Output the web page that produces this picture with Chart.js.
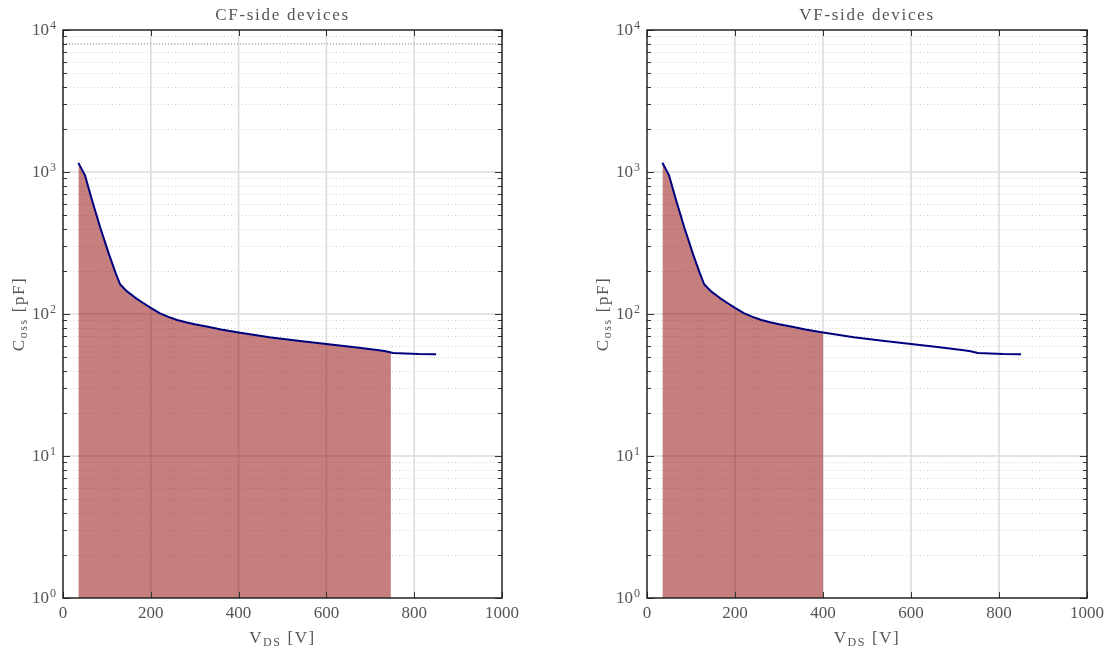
<!DOCTYPE html>
<html><head><meta charset="utf-8">
<script src="https://cdn.jsdelivr.net/npm/chart.js@4/dist/chart.umd.min.js"></script>
<style>
html,body{margin:0;padding:0;background:#fff;width:1113px;height:653px;overflow:hidden;}
canvas{position:absolute;top:0;}
#c1{left:0;} #c2{left:556px;}
</style></head><body>
<canvas id="c1" width="556" height="653"></canvas>
<canvas id="c2" width="557" height="653"></canvas>
<script>
// ---- data ----
const vdsCurve  = [35, 50, 65, 85, 105, 120, 130, 145, 165, 180, 200, 220, 240, 260, 280, 300, 330, 360, 400, 470, 540, 600, 660, 720, 735, 752, 780, 810, 850];
const cossCurve = [1160, 950, 650, 405, 262, 194, 162, 145, 130, 121, 110.4, 101.4, 95.5, 90.8, 87.5, 84.7, 81.2, 77.8, 74.1, 68.5, 64.5, 61.5, 58.5, 55.6, 54.6, 53.2, 52.6, 52.2, 52];
const cfFillV = [35, 50, 65, 85, 105, 120, 130, 145, 165, 180, 200, 220, 240, 260, 280, 300, 330, 360, 400, 470, 540, 600, 660, 720, 735, 747];
const cfFillC = [1160, 950, 650, 405, 262, 194, 162, 145, 130, 121, 110.4, 101.4, 95.5, 90.8, 87.5, 84.7, 81.2, 77.8, 74.1, 68.5, 64.5, 61.5, 58.5, 55.6, 54.6, 53.6];
const vfFillV = [35, 50, 65, 85, 105, 120, 130, 145, 165, 180, 200, 220, 240, 260, 280, 300, 330, 360, 400];
const vfFillC = [1160, 950, 650, 405, 262, 194, 162, 145, 130, 121, 110.4, 101.4, 95.5, 90.8, 87.5, 84.7, 81.2, 77.8, 74.1];
const cfLimitV = [0, 1000];
const cfLimitC = [8000, 8000];
const xTicks = [0, 200, 400, 600, 800, 1000];
const yDecades = [0, 1, 2, 3, 4];
const chartTitles = ['CF-side devices', 'VF-side devices'];

const SERIF = '"Liberation Serif", "DejaVu Serif", serif';
const TXT = '#555555';
function pts(xs, ys){ return xs.map((x, i) => ({x: x, y: ys[i]})); }
function seg(ctx, x1, y1, x2, y2){ ctx.beginPath(); ctx.moveTo(x1, y1); ctx.lineTo(x2, y2); ctx.stroke(); }
function rich(ctx, parts, cx, by){
  let w = 0;
  for (const p of parts){ ctx.font = p[1] + 'px ' + SERIF; w += ctx.measureText(p[0]).width; }
  let xx = cx - w / 2;
  ctx.textAlign = 'left'; ctx.textBaseline = 'alphabetic';
  for (const p of parts){
    ctx.font = p[1] + 'px ' + SERIF;
    ctx.fillText(p[0], xx, by + (p[2] || 0));
    xx += ctx.measureText(p[0]).width;
  }
}

const frame = {
  id: 'frame',
  beforeDatasetsDraw(chart){
    const ctx = chart.ctx, a = chart.chartArea, x = chart.scales.x, y = chart.scales.y;
    ctx.save();
    ctx.lineWidth = 1;
    ctx.strokeStyle = 'rgba(0,0,0,0.18)';
    ctx.setLineDash([1, 2.5]);
    for (let d = 0; d < 4; d++) for (let m = 2; m <= 9; m++){
      const py = Math.round(y.getPixelForValue(m * Math.pow(10, d))) + 0.5;
      seg(ctx, a.left, py, a.right, py);
    }
    ctx.setLineDash([]);
    ctx.strokeStyle = '#dcdcdc'; ctx.lineWidth = 1.6;
    for (const d of [1, 2, 3]){
      const py = y.getPixelForValue(Math.pow(10, d));
      seg(ctx, a.left, py, a.right, py);
    }
    for (const v of xTicks.slice(1, -1)){
      const px = x.getPixelForValue(v);
      seg(ctx, px, a.top, px, a.bottom);
    }
    ctx.restore();
  },
  afterDatasetsDraw(chart, args, opts){
    const ctx = chart.ctx, a = chart.chartArea, x = chart.scales.x, y = chart.scales.y;
    ctx.save();
    ctx.strokeStyle = '#333'; ctx.lineWidth = 1;
    for (const v of xTicks){
      const px = Math.round(x.getPixelForValue(v)) + 0.5;
      seg(ctx, px, a.bottom, px, a.bottom - 6);
      seg(ctx, px, a.top, px, a.top + 6);
    }
    for (const d of yDecades){
      for (let m = 1; m <= 9; m++){
        const val = m * Math.pow(10, d);
        if (val > 10000) break;
        const py = Math.round(y.getPixelForValue(val)) + 0.5;
        const len = m === 1 ? 7 : 4;
        seg(ctx, a.left, py, a.left + len, py);
        seg(ctx, a.right, py, a.right - len, py);
      }
    }
    ctx.strokeStyle = '#222'; ctx.lineWidth = 1.5;
    ctx.strokeRect(a.left, a.top, a.right - a.left, a.bottom - a.top);

    ctx.fillStyle = TXT;
    ctx.font = '17px ' + SERIF; ctx.textAlign = 'center'; ctx.textBaseline = 'middle';
    for (const v of xTicks) ctx.fillText(String(v), x.getPixelForValue(v), a.bottom + 16);
    for (const d of yDecades){
      const py = y.getPixelForValue(Math.pow(10, d));
      ctx.font = '12px ' + SERIF; ctx.textAlign = 'right'; ctx.textBaseline = 'alphabetic';
      const ew = ctx.measureText(String(d)).width;
      ctx.fillText(String(d), a.left - 7, py - 1);
      ctx.font = '17px ' + SERIF; ctx.textBaseline = 'middle';
      ctx.fillText('10', a.left - 8 - ew, py + 1);
    }
    const cx = (a.left + a.right) / 2;
    ctx.letterSpacing = '1.6px';
    rich(ctx, [['V', 17, 0], ['DS', 12, 2.5], [' [V]', 17, 0]], cx, 643);
    ctx.save();
    ctx.translate(a.left - 45, (a.top + a.bottom) / 2);
    ctx.rotate(-Math.PI / 2);
    rich(ctx, [['C', 17, 0], ['oss', 12, 3], [' [pF]', 17, 0]], 0, 6);
    ctx.restore();
    ctx.letterSpacing = '1.7px';
    rich(ctx, [[opts.title, 17, 0]], cx, 20);
    ctx.restore();
  }
};

function makeChart(id, fillV, fillC, withLimit, padL, padR, title){
  const datasets = [
    {data: pts(fillV, fillC), borderColor: 'rgba(0,0,0,0)', borderWidth: 0, pointRadius: 0,
     fill: {value: 1}, backgroundColor: 'rgba(139,0,0,0.5)', order: 3},
    {data: pts(vdsCurve, cossCurve), borderColor: '#00007f', borderWidth: 2, pointRadius: 0,
     fill: false, order: 1}
  ];
  if (withLimit) datasets.push({data: pts(cfLimitV, cfLimitC), borderColor: '#8c8c8c', borderWidth: 1,
    borderDash: [1, 2], pointRadius: 0, fill: false, order: 2});
  return new Chart(document.getElementById(id), {
    type: 'line',
    data: {datasets: datasets},
    options: {
      responsive: false, animation: false, devicePixelRatio: 1,
      layout: {padding: {left: padL, right: padR, top: 30, bottom: 55}},
      plugins: {legend: {display: false}, tooltip: {enabled: false}, title: {display: false}, frame: {title: title}},
      scales: {
        x: {type: 'linear', min: 0, max: 1000, display: false},
        y: {type: 'logarithmic', min: 1, max: 10000, display: false}
      },
      elements: {line: {tension: 0, borderJoinStyle: 'round'}}
    },
    plugins: [frame]
  });
}
makeChart('c1', cfFillV, cfFillC, true, 63, 54, chartTitles[0]);
makeChart('c2', vfFillV, vfFillC, false, 91, 26, chartTitles[1]);
</script>
</body></html>
